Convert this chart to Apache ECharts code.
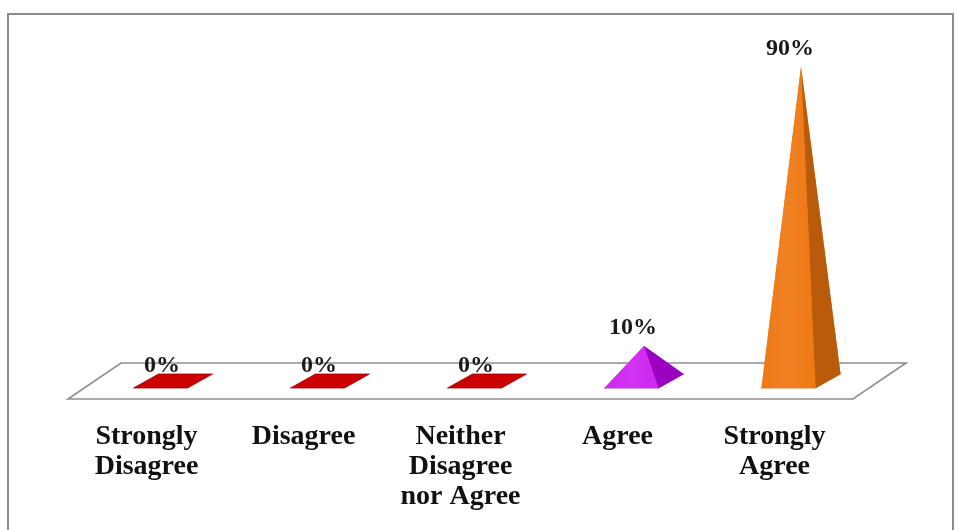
<!DOCTYPE html>
<html>
<head>
<meta charset="utf-8">
<script src="https://cdn.jsdelivr.net/npm/echarts/dist/echarts.min.js"></script>
<style>
  html, body { margin: 0; padding: 0; background: #ffffff; }
  #chart { width: 955px; height: 530px; }
</style>
</head>
<body>
<div id="chart"></div>
<script>
// Survey responses (share of respondents, %)
const categories = ['Strongly\nDisagree', 'Disagree', 'Neither\nDisagree\nnor Agree', 'Agree', 'Strongly\nAgree'];
const percentages = [0, 0, 0, 10, 90];
const faceColors = ['#cc0000', '#cc0000', '#cc0000', '#cf24f0', '#ef7812'];
const sideColors = ['#9c0000', '#9c0000', '#9c0000', '#9b00c2', '#b95b0b'];

// Oblique 3D projection settings (pixels)
const FLOOR_DEPTH = [53, -36];      // front edge -> back edge of the floor
const MID_DEPTH = [26.5, -18];      // marks stand halfway into the floor
const BASE_HALF_W = 27;             // half width of a pyramid base
const BASE_HALF_D = [12.5, -7];     // half depth of a pyramid base

const SERIF = '"Liberation Serif", "Times New Roman", serif';

const chart = echarts.init(document.getElementById('chart'), null, { renderer: 'canvas' });

function renderFloor(params, api) {
  const cs = params.coordSys;
  const bx = cs.x, by = cs.y + cs.height, w = cs.width;
  return {
    type: 'polygon',
    shape: {
      points: [
        [bx, by],
        [bx + w, by],
        [bx + w + FLOOR_DEPTH[0], by + FLOOR_DEPTH[1]],
        [bx + FLOOR_DEPTH[0], by + FLOOR_DEPTH[1]]
      ]
    },
    style: { fill: '#ffffff', stroke: '#8e8e8e', lineWidth: 1.6 },
    silent: true
  };
}

function renderPyramid(params, api) {
  const idx = api.value(0);
  const val = api.value(1);
  const ground = api.coord([idx, 0]);
  const peak = api.coord([idx, val]);
  const cx = ground[0] + MID_DEPTH[0], cy = ground[1] + MID_DEPTH[1];
  const ax = peak[0] + MID_DEPTH[0], ay = peak[1] + MID_DEPTH[1];

  const FL = [cx - BASE_HALF_W - BASE_HALF_D[0], cy - BASE_HALF_D[1]];
  const FR = [cx + BASE_HALF_W - BASE_HALF_D[0], cy - BASE_HALF_D[1]];
  const BR = [cx + BASE_HALF_W + BASE_HALF_D[0], cy + BASE_HALF_D[1]];
  const BL = [cx - BASE_HALF_W + BASE_HALF_D[0], cy + BASE_HALF_D[1]];
  const A = [ax, ay];

  const face = faceColors[idx];
  const side = sideColors[idx];
  const children = [];
  const flat = cy - ay < 1;

  children.push({
    type: 'polygon',
    shape: { points: [FL, FR, BR, BL] },
    style: { fill: face, stroke: side, lineWidth: 0.8 }
  });

  if (!flat) {
    children.push({
      type: 'polygon',
      shape: { points: [BL, BR, A] },
      style: { fill: face }
    });
    children.push({
      type: 'polygon',
      shape: { points: [FL, BL, A] },
      style: { fill: face }
    });
    children.push({
      type: 'polygon',
      shape: { points: [FR, BR, A] },
      style: { fill: side }
    });
    children.push({
      type: 'polygon',
      shape: { points: [FL, FR, A] },
      style: {
        fill: new echarts.graphic.LinearGradient(0, 0, 1, 0, [
          { offset: 0, color: face },
          { offset: 0.45, color: echarts.color.lift(face, 0.08) },
          { offset: 1, color: face }
        ])
      }
    });
  }

  children.push({
    type: 'text',
    x: ax - 11,
    y: ay - (flat ? 15 : 18),
    style: {
      text: val + '%',
      align: 'center',
      verticalAlign: 'middle',
      fontFamily: SERIF,
      fontWeight: 'bold',
      fontSize: 24,
      fill: '#1a1a1a'
    }
  });

  return { type: 'group', children: children };
}

const option = {
  animation: false,
  backgroundColor: '#ffffff',
  graphic: [{
    type: 'rect',
    shape: { x: 8, y: 14, width: 945, height: 540 },
    style: { fill: 'none', stroke: '#8a8a8a', lineWidth: 2 },
    silent: true,
    z: 0
  }],
  grid: { left: 68, right: 102, top: 50, bottom: 131 },
  xAxis: {
    type: 'category',
    data: categories,
    axisLine: { show: false },
    axisTick: { show: false },
    splitLine: { show: false },
    axisLabel: {
      interval: 0,
      margin: 23,
      fontFamily: SERIF,
      fontWeight: 'bold',
      fontSize: 28,
      lineHeight: 30,
      color: '#111111'
    }
  },
  yAxis: { type: 'value', min: 0, max: 100, show: false },
  series: [
    {
      type: 'custom',
      name: 'floor',
      renderItem: renderFloor,
      data: [[0, 0]],
      silent: true,
      z: 1
    },
    {
      type: 'custom',
      name: 'Responses',
      renderItem: renderPyramid,
      data: percentages.map((v, i) => [i, v]),
      z: 2
    }
  ]
};

chart.setOption(option);
</script>
</body>
</html>
